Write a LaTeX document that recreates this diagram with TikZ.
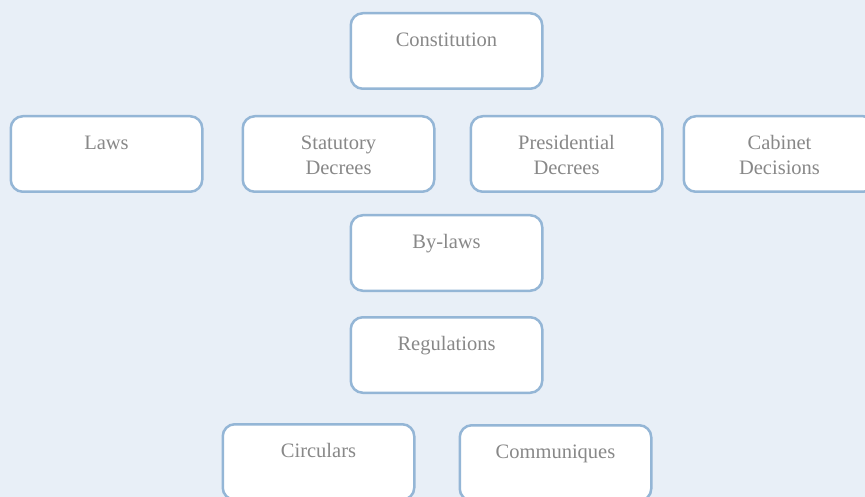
\documentclass[tikz,border=0pt]{standalone}
\usepackage{fontspec}
\setmainfont{Liberation Serif}
\definecolor{paper}{HTML}{E8EFF7}
\definecolor{edge}{HTML}{94B6D6}
\definecolor{ink}{HTML}{888888}
\tikzset{
  unit/.style={draw=edge, fill=white, line width=2.5pt, rounded corners=12pt,
    minimum width=191.5pt, minimum height=75.5pt, anchor=north west, inner sep=0pt},
  title/.style={anchor=north, inner sep=0pt, text=ink, align=center,
    font=\fontsize{20.5}{25}\selectfont, yshift=-20.5pt}
}
\begin{document}
\begin{tikzpicture}[x=1pt, y=-1pt]
  \useasboundingbox (0,0) rectangle (865,497);
  \fill[paper] (0,0) rectangle (865,497);
  \clip (0,0) rectangle (865,497);
  % top level
  \node[unit] (con) at (349.5,12) {};
  \node[title] (con-t) at (con.north) {Constitution};
  % second row
  \node[unit] (law) at (9.5,115) {};
  \node[title] (law-t) at (law.north) {Laws};
  \node[unit] (sdec) at (241.5,115) {};
  \node[title] (sdec-t) at (sdec.north) {Statutory\\Decrees};
  \node[unit] (pdec) at (469.5,115) {};
  \node[title] (pdec-t) at (pdec.north) {Presidential\\Decrees};
  \node[unit] (cab) at (682.5,115) {};
  \node[title] (cab-t) at (cab.north) {Cabinet\\Decisions};
  % middle
  \node[unit] (byl) at (349.5,214) {};
  \node[title] (byl-t) at (byl.north) {By-laws};
  \node[unit] (reg) at (349.5,316) {};
  \node[title] (reg-t) at (reg.north) {Regulations};
  % bottom row
  \node[unit] (circ) at (221.5,423) {};
  \node[title] (circ-t) at (circ.north) {Circulars};
  \node[unit] (comm) at (458.5,424) {};
  \node[title] (comm-t) at (comm.north) {Communiques};
\end{tikzpicture}
\end{document}
